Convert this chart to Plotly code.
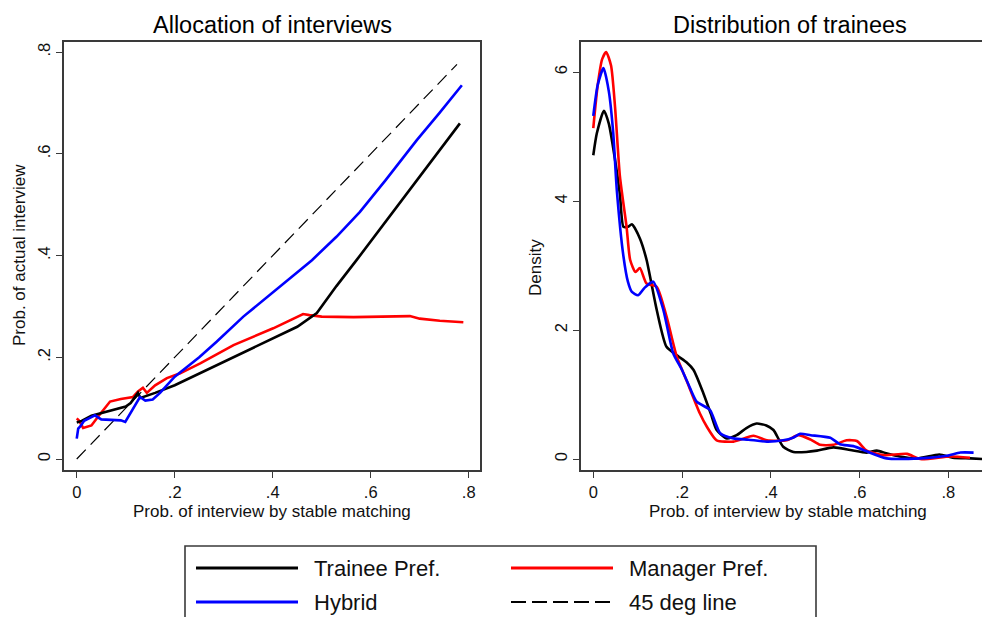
import plotly.graph_objects as go

# ---------------- data ----------------
# Left panel: allocation of interviews
trainee_x = [0, 0.01, 0.03, 0.05, 0.08, 0.10, 0.11, 0.125, 0.13, 0.145, 0.16, 0.2, 0.25, 0.3, 0.35, 0.4, 0.45, 0.49, 0.53, 0.571, 0.62, 0.66, 0.7, 0.74, 0.782]
trainee_y = [0.072, 0.075, 0.085, 0.09, 0.097, 0.103, 0.11, 0.13, 0.12, 0.125, 0.13, 0.145, 0.168, 0.191, 0.213, 0.237, 0.26, 0.287, 0.34, 0.391, 0.454, 0.505, 0.557, 0.608, 0.66]

hybrid_x = [0, 0.003, 0.008, 0.015, 0.025, 0.037, 0.05, 0.07, 0.09, 0.099, 0.11, 0.129, 0.14, 0.155, 0.17, 0.2, 0.25, 0.286, 0.34, 0.401, 0.44, 0.48, 0.53, 0.578, 0.63, 0.694, 0.74, 0.786]
hybrid_y = [0.04, 0.06, 0.065, 0.075, 0.08, 0.086, 0.078, 0.077, 0.076, 0.073, 0.09, 0.122, 0.115, 0.117, 0.13, 0.162, 0.2, 0.231, 0.28, 0.329, 0.36, 0.391, 0.437, 0.486, 0.548, 0.627, 0.68, 0.735]

manager_x = [0, 0.005, 0.013, 0.03, 0.045, 0.068, 0.09, 0.115, 0.125, 0.135, 0.143, 0.16, 0.184, 0.21, 0.252, 0.32, 0.401, 0.44, 0.462, 0.475, 0.5, 0.565, 0.68, 0.70, 0.741, 0.789]
manager_y = [0.08, 0.075, 0.061, 0.066, 0.085, 0.113, 0.118, 0.122, 0.133, 0.14, 0.13, 0.145, 0.159, 0.168, 0.188, 0.224, 0.257, 0.275, 0.285, 0.283, 0.28, 0.279, 0.281, 0.276, 0.272, 0.269]

deg45_x = [0, 0.776]
deg45_y = [0, 0.776]

# Right panel: density of trainees
dens_trainee_x = [0, 0.008, 0.024, 0.035, 0.049, 0.06, 0.068, 0.078, 0.087, 0.105, 0.12, 0.143, 0.165, 0.192, 0.21, 0.226, 0.248, 0.265, 0.278, 0.301, 0.323, 0.345, 0.368, 0.39, 0.406, 0.428, 0.451, 0.48, 0.504, 0.541, 0.579, 0.616, 0.639, 0.66, 0.69, 0.73, 0.78, 0.81, 0.85, 0.88]
dens_trainee_y = [4.71, 5.05, 5.4, 5.2, 4.64, 4.1, 3.6, 3.6, 3.64, 3.42, 3.09, 2.31, 1.74, 1.59, 1.5, 1.38, 1.02, 0.7, 0.45, 0.32, 0.37, 0.48, 0.55, 0.52, 0.45, 0.19, 0.11, 0.11, 0.13, 0.18, 0.14, 0.1, 0.13, 0.09, 0.04, 0.01, 0.07, 0.02, 0.01, 0.0]

dens_manager_x = [0, 0.01, 0.02, 0.029, 0.04, 0.049, 0.06, 0.075, 0.083, 0.095, 0.105, 0.12, 0.143, 0.165, 0.188, 0.21, 0.24, 0.256, 0.278, 0.316, 0.361, 0.391, 0.436, 0.462, 0.49, 0.511, 0.541, 0.571, 0.594, 0.616, 0.654, 0.707, 0.737, 0.804, 0.849]
dens_manager_y = [5.13, 5.8, 6.2, 6.31, 6.1, 5.46, 4.38, 3.6, 3.09, 2.9, 2.96, 2.72, 2.67, 2.21, 1.59, 1.22, 0.71, 0.5, 0.29, 0.27, 0.36, 0.29, 0.29, 0.37, 0.3, 0.22, 0.22, 0.29, 0.28, 0.13, 0.06, 0.08, 0.0, 0.04, 0.02]

dens_hybrid_x = [0, 0.01, 0.023, 0.035, 0.045, 0.053, 0.068, 0.078, 0.087, 0.101, 0.115, 0.135, 0.158, 0.18, 0.2, 0.218, 0.233, 0.263, 0.286, 0.316, 0.35, 0.391, 0.428, 0.45, 0.466, 0.49, 0.534, 0.556, 0.586, 0.616, 0.661, 0.737, 0.797, 0.827, 0.857]
dens_hybrid_y = [5.32, 5.8, 6.06, 5.7, 5.05, 4.17, 3.14, 2.75, 2.59, 2.54, 2.65, 2.75, 2.31, 1.64, 1.38, 1.1, 0.89, 0.76, 0.4, 0.32, 0.3, 0.27, 0.29, 0.33, 0.39, 0.37, 0.33, 0.23, 0.2, 0.12, 0.01, 0.01, 0.05, 0.1, 0.1]

x_tickvals = [0, 0.2, 0.4, 0.6, 0.8]
x_ticktext = ["0", ".2", ".4", ".6", ".8"]
y1_tickvals = [0, 0.2, 0.4, 0.6, 0.8]
y1_ticktext = ["0", ".2", ".4", ".6", ".8"]
y2_tickvals = [0, 2, 4, 6]
y2_ticktext = ["0", "2", "4", "6"]

legend_names = ["Trainee Pref.", "Manager Pref.", "Hybrid", "45 deg line"]

# ---------------- figure ----------------
# page body has an 8px margin, so the figure is sized to fill the rest of the window
OFF = 8
W, H = 990 - OFF, 617 - OFF
FONT = "Arial, Liberation Sans, sans-serif"
BLACK, RED, BLUE = "#000000", "#ff0000", "#0000ff"
FRAME = "#3a3a3a"


def px(x):
    return (x - OFF) / W


def py(y):
    return 1 - (y - OFF) / H


fig = go.Figure()

lw = 2.6
fig.add_trace(go.Scatter(x=deg45_x, y=deg45_y, mode="lines", line=dict(color=BLACK, width=1.2, dash="13px,7px"), xaxis="x", yaxis="y", showlegend=False))
fig.add_trace(go.Scatter(x=manager_x, y=manager_y, mode="lines", line=dict(color=RED, width=lw), xaxis="x", yaxis="y", showlegend=False))
fig.add_trace(go.Scatter(x=trainee_x, y=trainee_y, mode="lines", line=dict(color=BLACK, width=lw), xaxis="x", yaxis="y", showlegend=False))
fig.add_trace(go.Scatter(x=hybrid_x, y=hybrid_y, mode="lines", line=dict(color=BLUE, width=lw), xaxis="x", yaxis="y", showlegend=False))

fig.add_trace(go.Scatter(x=dens_trainee_x, y=dens_trainee_y, mode="lines", line=dict(color=BLACK, width=lw, shape="spline", smoothing=0.6), xaxis="x2", yaxis="y2", showlegend=False))
fig.add_trace(go.Scatter(x=dens_manager_x, y=dens_manager_y, mode="lines", line=dict(color=RED, width=lw, shape="spline", smoothing=0.6), xaxis="x2", yaxis="y2", showlegend=False))
fig.add_trace(go.Scatter(x=dens_hybrid_x, y=dens_hybrid_y, mode="lines", line=dict(color=BLUE, width=lw, shape="spline", smoothing=0.6), xaxis="x2", yaxis="y2", showlegend=False))

axis_common = dict(
    showgrid=False, zeroline=False, showline=True, linecolor=FRAME, linewidth=1.6,
    ticks="outside", ticklen=6, tickwidth=1.4, tickcolor=FRAME,
    tickfont=dict(family=FONT, size=16.5, color="#111111"),
)

fig.update_layout(
    width=W, height=H,
    margin=dict(l=0, r=0, t=0, b=0),
    paper_bgcolor="white", plot_bgcolor="white",
    showlegend=False,
    font=dict(family=FONT, color="#111111"),
    xaxis=dict(domain=[px(64), px(480)], range=[-0.026, 0.823], tickvals=x_tickvals, ticktext=x_ticktext,
               mirror=True, anchor="y", **axis_common),
    yaxis=dict(domain=[py(470), py(42)], range=[-0.0216, 0.82], tickvals=y1_tickvals, ticktext=y1_ticktext,
               tickangle=-90, mirror=True, anchor="x", **axis_common),
    xaxis2=dict(domain=[px(581), 1.0], range=[-0.0277, 0.894], tickvals=x_tickvals, ticktext=x_ticktext,
                mirror=True, anchor="y2", **axis_common),
    yaxis2=dict(domain=[py(470), py(42)], range=[-0.17, 6.465], tickvals=y2_tickvals, ticktext=y2_ticktext,
                tickangle=-90, mirror=False, anchor="x2", **axis_common),
)

ann = []
# titles
ann.append(dict(text="Allocation of interviews", x=px(272), y=py(25), xref="paper", yref="paper",
                showarrow=False, font=dict(size=23.5, family=FONT, color="#000"), xanchor="center", yanchor="middle"))
ann.append(dict(text="Distribution of trainees", x=px(790), y=py(25), xref="paper", yref="paper",
                showarrow=False, font=dict(size=23.5, family=FONT, color="#000"), xanchor="center", yanchor="middle"))
# axis titles
ann.append(dict(text="Prob. of interview by stable matching", x=px(272), y=py(511), xref="paper", yref="paper",
                showarrow=False, font=dict(size=17, family=FONT, color="#111"), xanchor="center", yanchor="middle"))
ann.append(dict(text="Prob. of interview by stable matching", x=px(788), y=py(511), xref="paper", yref="paper",
                showarrow=False, font=dict(size=17, family=FONT, color="#111"), xanchor="center", yanchor="middle"))
ann.append(dict(text="Prob. of actual interview", x=px(19), y=py(255), xref="paper", yref="paper", textangle=-90,
                showarrow=False, font=dict(size=17, family=FONT, color="#111"), xanchor="center", yanchor="middle"))
ann.append(dict(text="Density", x=px(536), y=py(268), xref="paper", yref="paper", textangle=-90,
                showarrow=False, font=dict(size=17, family=FONT, color="#111"), xanchor="center", yanchor="middle"))

# legend (manual, Stata style)
shapes = [dict(type="rect", xref="paper", yref="paper", x0=px(185), x1=px(816), y0=py(630), y1=py(546),
               line=dict(color=FRAME, width=1.6), fillcolor="rgba(0,0,0,0)")]
leg_items = [
    (legend_names[0], BLACK, "solid", 3.2, 196, 568),
    (legend_names[1], RED, "solid", 3.2, 511, 568),
    (legend_names[2], BLUE, "solid", 3.2, 196, 602),
    (legend_names[3], BLACK, "15px,6px", 1.8, 511, 602),
]
for name, col, dash, wdt, x0, yy in leg_items:
    shapes.append(dict(type="line", xref="paper", yref="paper", x0=px(x0), x1=px(x0 + 102), y0=py(yy), y1=py(yy),
                       line=dict(color=col, width=wdt, dash=dash)))
    ann.append(dict(text=name, x=px(x0 + 116), y=py(yy), xref="paper", yref="paper", showarrow=False,
                    font=dict(size=22, family=FONT, color="#111"), xanchor="left", yanchor="middle"))

fig.update_layout(annotations=ann, shapes=shapes)

fig.write_html("out.html")
